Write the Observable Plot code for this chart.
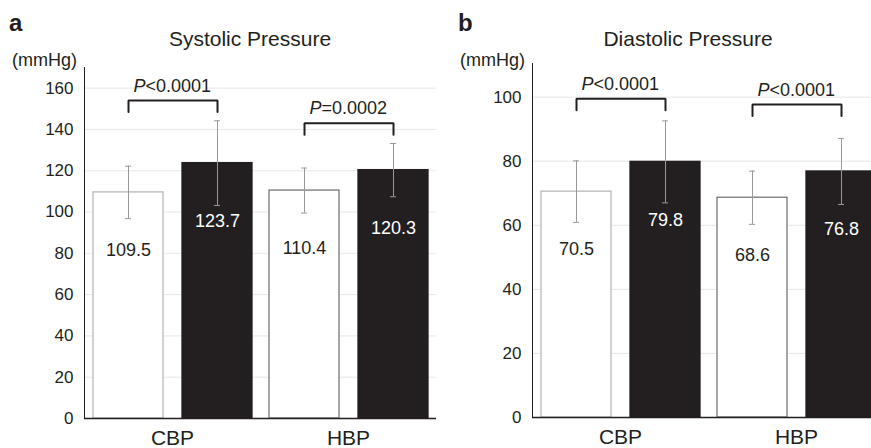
<!DOCTYPE html>
<html><head><meta charset="utf-8">
<script src="https://cdn.jsdelivr.net/npm/d3@7"></script>
<script src="https://cdn.jsdelivr.net/npm/@observablehq/plot@0.6"></script>
<style>
body{margin:0;width:871px;height:448px;overflow:hidden;position:relative;background:#fff;font-family:"Liberation Sans",Arial,sans-serif;color:#231f20}
.panel{position:absolute;top:0;height:448px;width:440px}
.lab{position:absolute;white-space:nowrap;line-height:1}
.panel svg [aria-label^="fx-axis"] text{font-size:21px}
.panel svg [aria-label^="y-axis"] text{font-size:17px}
</style></head><body>
<div id="a" class="panel" style="left:0">
  <div class="lab" style="left:9px;top:11px;font-size:24px;font-weight:bold">a</div>
  <div class="lab" style="left:100px;width:300px;text-align:center;top:28px;font-size:21px">Systolic Pressure</div>
  <div class="lab" style="left:0;width:77px;text-align:right;top:51px;font-size:18px">(mmHg)</div>
</div>
<div id="b" class="panel" style="left:449px">
  <div class="lab" style="left:9px;top:11px;font-size:24px;font-weight:bold">b</div>
  <div class="lab" style="left:89px;width:300px;text-align:center;top:28px;font-size:21px">Diastolic Pressure</div>
  <div class="lab" style="left:0;width:76px;text-align:right;top:51px;font-size:18px">(mmHg)</div>
</div>
<script>
const categories = ["CBP", "HBP"];
const series = ["open", "filled"];

const sysOpen = [109.5, 110.4];
const sysFilled = [123.7, 120.3];
const sysOpenSD = [12.7, 10.9];
const sysFilledSD = [20.5, 12.9];
const sysP = ["<0.0001", "=0.0002"];
const sysBracket = [154, 143];
const sysTicks = [0, 20, 40, 60, 80, 100, 120, 140, 160];

const diaOpen = [70.5, 68.6];
const diaFilled = [79.8, 76.8];
const diaOpenSD = [9.6, 8.3];
const diaFilledSD = [12.8, 10.3];
const diaP = ["<0.0001", "<0.0001"];
const diaBracket = [99.5, 97.7];
const diaTicks = [0, 20, 40, 60, 80, 100];

function panel(el, o) {
  const rows = categories.flatMap((g, i) => [
    {g, s: series[0], v: o.open[i], sd: o.openSD[i]},
    {g, s: series[1], v: o.filled[i], sd: o.filledSD[i]}
  ]);
  const plotH = 448 - o.mt - o.mb;
  const drop = 11.5 * o.ymax / plotH;
  const br = categories.flatMap((g, i) => [
    {g, s: series[0], y: o.bracket[i] - drop},
    {g, s: series[0], y: o.bracket[i]},
    {g, s: series[1], y: o.bracket[i]},
    {g, s: series[1], y: o.bracket[i] - drop}
  ]);
  const pl = categories.map((g, i) => ({g, y: o.bracket[i], t: o.p[i]}));
  const openStroke = d => d.g === "CBP" ? "#b8b8b8" : "#777777";
  const chart = Plot.plot({
    width: o.width, height: 448,
    marginLeft: 83, marginRight: 4, marginTop: o.mt, marginBottom: o.mb,
    style: {fontFamily: '"Liberation Sans", Arial, sans-serif', fontSize: "17px", color: "#231f20", background: "transparent", overflow: "visible"},
    color: {type: "identity"},
    fx: {domain: categories, padding: 0, label: null, tickSize: 0, tickPadding: 12, axis: "bottom"},
    x: {domain: series, axis: null, paddingInner: 0.2135, paddingOuter: 0.0955},
    y: {domain: [0, o.ymax], ticks: o.ticks, tickSize: 0, tickPadding: 11, label: null, line: true, grid: true},
    marks: [
      Plot.barY(rows, {fx: "g", x: "s", y: "v",
        fill: d => d.s === series[0] ? "#ffffff" : "#231f20",
        stroke: d => d.s === series[0] ? openStroke(d) : "#231f20",
        strokeWidth: 1.3}),
      Plot.ruleX(rows, {fx: "g", x: "s", y1: d => d.v - d.sd, y2: d => d.v + d.sd, stroke: "#999999"}),
      Plot.tickY(rows, {fx: "g", x: "s", y: d => d.v + d.sd, stroke: "#999999", insetLeft: 32, insetRight: 32}),
      Plot.tickY(rows, {fx: "g", x: "s", y: d => d.v - d.sd, stroke: "#999999", insetLeft: 32, insetRight: 32}),
      Plot.text(rows, {fx: "g", x: "s", y: "v", text: d => d.v.toFixed(1), dy: 58, fontSize: 18,
        fill: d => d.s === series[0] ? "#231f20" : "#ffffff"}),
      Plot.line(br, {fx: "g", x: "s", y: "y", z: "g", stroke: "#231f20", strokeWidth: 2, strokeLinejoin: "miter"}),
      Plot.text(pl, {fx: "g", y: "y", text: () => "P", fontStyle: "italic", textAnchor: "end", dx: -27, dy: -9, lineAnchor: "bottom", fontSize: 18, fill: "#231f20"}),
      Plot.text(pl, {fx: "g", y: "y", text: "t", textAnchor: "start", dx: -27, dy: -9, lineAnchor: "bottom", fontSize: 18, fill: "#231f20"}),
      Plot.ruleY([0], {stroke: "#231f20", strokeWidth: 1.5})
    ]
  });
  chart.style.position = "absolute";
  chart.style.left = "0px";
  chart.style.top = "0px";
  el.insertBefore(chart, el.firstChild);
}

panel(document.getElementById("a"), {open: sysOpen, filled: sysFilled, openSD: sysOpenSD, filledSD: sysFilledSD,
  p: sysP, bracket: sysBracket, ticks: sysTicks, ymax: 170, mt: 67, mb: 30, width: 440});
panel(document.getElementById("b"), {open: diaOpen, filled: diaFilled, openSD: diaOpenSD, filledSD: diaFilledSD,
  p: diaP, bracket: diaBracket, ticks: diaTicks, ymax: 110.5, mt: 63, mb: 31, width: 439});
</script>
</body></html>
